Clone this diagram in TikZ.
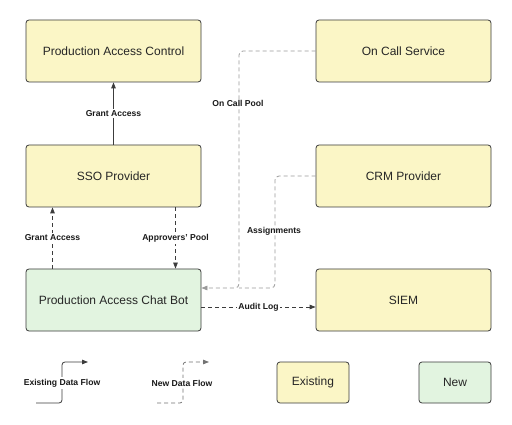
\documentclass[tikz,border=0pt]{standalone}
\usepackage{fontspec}
\setmainfont{Liberation Sans}
\usetikzlibrary{arrows.meta,calc}
\definecolor{boxline}{HTML}{3A3A3A}
\definecolor{yel}{HTML}{FBF6C6}
\definecolor{grn}{HTML}{E2F4E0}
\definecolor{darkln}{HTML}{3C3C3C}
\definecolor{lightln}{HTML}{9A9A9A}
\tikzset{
  box/.style={draw=boxline, line width=0.8pt, rounded corners=3pt, minimum width=175pt, minimum height=62pt, font=\fontsize{12}{14}\selectfont, text=black!85},
  ybox/.style={box, fill=yel},
  gbox/.style={box, fill=grn},
  lbox/.style={box, minimum width=72pt, minimum height=41pt},
  lbl/.style={font=\bfseries\fontsize{8.6}{10}\selectfont, text=black!90, inner sep=1.5pt},
  lblw/.style={lbl, fill=white},
  solidflow/.style={draw=darkln, line width=0.8pt, -{Triangle[length=6pt,width=4.5pt]}},
  newflow/.style={draw=darkln, line width=0.8pt, dash pattern=on 4pt off 3pt, -{Triangle[length=6pt,width=4.5pt]}},
  lightflow/.style={draw=lightln, line width=0.8pt, dash pattern=on 4pt off 3pt, rounded corners=4pt},
}
\begin{document}
\begin{tikzpicture}[x=1pt,y=-1pt]
\useasboundingbox[fill=white] (0,0) rectangle (512,425);
% boxes
\node[ybox] (pac) at (113.5,51) {Production Access Control};
\node[ybox] (sso) at (113.5,176) {SSO Provider};
\node[gbox] (bot) at (113.5,300) {Production Access Chat Bot};
\node[ybox] (oncall) at (403.5,51) {On Call Service};
\node[ybox] (crm) at (403.5,176) {CRM Provider};
\node[ybox] (siem) at (403.5,300) {SIEM};
% flows
\draw[solidflow] (sso.north) -- node[lblw, pos=0.5] {Grant Access} (pac.south);
\draw[newflow] ([xshift=-61pt]bot.north) -- node[lblw] {Grant Access} ([xshift=-61pt]sso.south);
\draw[newflow] ([xshift=62pt]sso.south) -- node[lblw] {Approvers' Pool} ([xshift=62pt]bot.north);
\draw[newflow] ([yshift=-7pt]bot.east) -- node[lblw] {Audit Log} ([yshift=-7pt]siem.east -| siem.west);
\coordinate (j) at (239,288);
\coordinate (k) at (275,288);
\draw[lightflow] (crm.west) -| (k) -- (j);
\draw[lightflow, -{Triangle[length=6pt,width=4.5pt]}] (oncall.west) -| (j) -- (j -| bot.east);
\node[lbl] (ocp) at (238,103) {On Call Pool};
\node[lbl] (asg) at (274,231) {Assignments};
% legend
\coordinate (e0) at (36,403);
\coordinate (e1) at (62,403);
\coordinate (e2) at (62,362);
\coordinate (e3) at (88,362);
\draw[solidflow, rounded corners=3pt] (e0) -- (e1) -- (e2) -- (e3);
\node[lblw] (lex) at (62,383) {Existing Data Flow};
\coordinate (n0) at (157,403);
\coordinate (n1) at (183,403);
\coordinate (n2) at (183,362);
\coordinate (n3) at (209,362);
\draw[newflow, draw=black!55, rounded corners=3pt] (n0) -- (n1) -- (n2) -- (n3);
\node[lblw] (lnew) at (182,383) {New Data Flow};
\node[lbox, fill=yel] (lexist) at (313,382.5) {Existing};
\node[lbox, fill=grn] (lnewb) at (455,382.5) {New};
\end{tikzpicture}
\end{document}
